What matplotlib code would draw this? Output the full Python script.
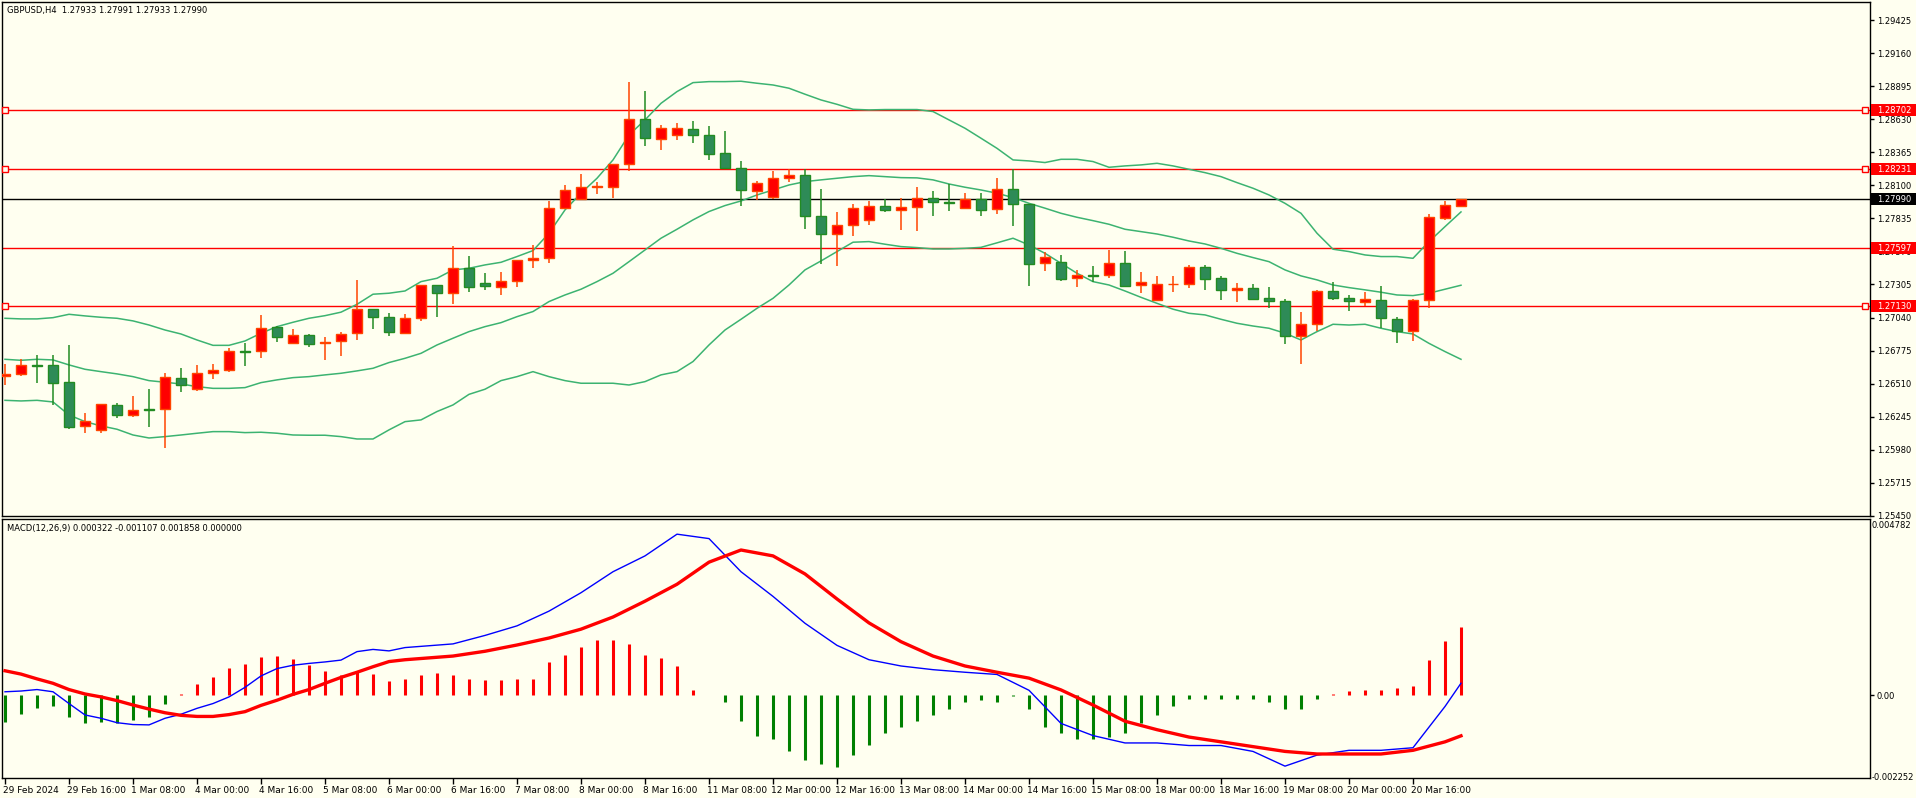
import matplotlib
matplotlib.use('Agg')
import matplotlib.pyplot as plt
from matplotlib.patches import Rectangle
import matplotlib.transforms as mtransforms

# ---------------- data ----------------
title_text = "GBPUSD,H4  1.27933 1.27991 1.27933 1.27990"
macd_text = "MACD(12,26,9) 0.000322 -0.001107 0.001858 0.000000"

opens = [1.26572, 1.26585, 1.26660, 1.26657, 1.26521, 1.26168, 1.26136, 1.26337, 1.26257, 1.26308,
         1.26305, 1.26553, 1.26465, 1.26593, 1.26617, 1.26771, 1.26769, 1.26962, 1.26834, 1.26898,
         1.26834, 1.26850, 1.26914, 1.27107, 1.27042, 1.26919, 1.27034, 1.27299, 1.27235, 1.27435,
         1.27315, 1.27288, 1.27331, 1.27499, 1.27515, 1.27917, 1.27994, 1.28088, 1.28090, 1.28269,
         1.28630, 1.28475, 1.28507, 1.28550, 1.28502, 1.28358, 1.28237, 1.28058, 1.28005, 1.28157,
         1.28181, 1.27853, 1.27708, 1.27780, 1.27826, 1.27932, 1.27900, 1.27925, 1.27997, 1.27965,
         1.27917, 1.27989, 1.27909, 1.28069, 1.27949, 1.27475, 1.27483, 1.27355, 1.27381, 1.27379,
         1.27478, 1.27299, 1.27179, 1.27305, 1.27307, 1.27443, 1.27355, 1.27259, 1.27275, 1.27198,
         1.27171, 1.26890, 1.26986, 1.27251, 1.27198, 1.27163, 1.27179, 1.27026, 1.26930, 1.27179,
         1.27837, 1.27933]
highs = [1.26668, 1.26705, 1.26740, 1.26740, 1.26820, 1.26275, 1.26350, 1.26356, 1.26412, 1.26465,
         1.26593, 1.26636, 1.26660, 1.26668, 1.26793, 1.26836, 1.27060, 1.26972, 1.26946, 1.26908,
         1.26882, 1.26924, 1.27342, 1.27112, 1.27074, 1.27069, 1.27304, 1.27304, 1.27614, 1.27534,
         1.27395, 1.27406, 1.27504, 1.27622, 1.27973, 1.28104, 1.28192, 1.28123, 1.28274, 1.28930,
         1.28857, 1.28585, 1.28601, 1.28617, 1.28577, 1.28537, 1.28296, 1.28136, 1.28216, 1.28229,
         1.28229, 1.28072, 1.27888, 1.27951, 1.27976, 1.27989, 1.28000, 1.28088, 1.28056, 1.28109,
         1.28040, 1.28040, 1.28160, 1.28229, 1.27954, 1.27569, 1.27542, 1.27422, 1.27454, 1.27582,
         1.27574, 1.27406, 1.27374, 1.27374, 1.27462, 1.27462, 1.27374, 1.27318, 1.27310, 1.27286,
         1.27190, 1.27085, 1.27262, 1.27326, 1.27222, 1.27246, 1.27294, 1.27045, 1.27192, 1.27871,
         1.27976, 1.27991]
lows = [1.26500, 1.26572, 1.26518, 1.26339, 1.26144, 1.26117, 1.26117, 1.26238, 1.26246, 1.26165,
        1.25991, 1.26446, 1.26454, 1.26550, 1.26607, 1.26655, 1.26719, 1.26847, 1.26830, 1.26807,
        1.26703, 1.26735, 1.26860, 1.26951, 1.26895, 1.26911, 1.27015, 1.27048, 1.27152, 1.27248,
        1.27262, 1.27224, 1.27288, 1.27441, 1.27481, 1.27912, 1.27989, 1.28032, 1.28002, 1.28219,
        1.28419, 1.28384, 1.28464, 1.28443, 1.28307, 1.28233, 1.27938, 1.27983, 1.27991, 1.28130,
        1.27754, 1.27473, 1.27457, 1.27697, 1.27786, 1.27890, 1.27745, 1.27737, 1.27858, 1.27898,
        1.27912, 1.27858, 1.27874, 1.27778, 1.27296, 1.27417, 1.27329, 1.27288, 1.27326, 1.27360,
        1.27288, 1.27240, 1.27174, 1.27248, 1.27280, 1.27264, 1.27184, 1.27168, 1.27184, 1.27120,
        1.26831, 1.26671, 1.26935, 1.27184, 1.27096, 1.27133, 1.26959, 1.26839, 1.26855, 1.27120,
        1.27823, 1.27933]
closes = [1.26588, 1.26657, 1.26655, 1.26518, 1.26165, 1.26208, 1.26345, 1.26257, 1.26297, 1.26302,
          1.26561, 1.26500, 1.26593, 1.26617, 1.26769, 1.26767, 1.26954, 1.26882, 1.26898, 1.26826,
          1.26847, 1.26906, 1.27107, 1.27042, 1.26922, 1.27034, 1.27299, 1.27235, 1.27435, 1.27288,
          1.27296, 1.27331, 1.27499, 1.27515, 1.27917, 1.28061, 1.28085, 1.28093, 1.28269, 1.28630,
          1.28483, 1.28558, 1.28558, 1.28502, 1.28355, 1.28238, 1.28061, 1.28117, 1.28157, 1.28181,
          1.27853, 1.27708, 1.27780, 1.27917, 1.27935, 1.27900, 1.27925, 1.27997, 1.27965, 1.27960,
          1.27989, 1.27906, 1.28069, 1.27949, 1.27473, 1.27523, 1.27353, 1.27379, 1.27377, 1.27478,
          1.27296, 1.27323, 1.27307, 1.27309, 1.27443, 1.27347, 1.27259, 1.27275, 1.27192, 1.27171,
          1.26890, 1.26986, 1.27251, 1.27200, 1.27171, 1.27187, 1.27034, 1.26930, 1.27179, 1.27845,
          1.27941, 1.27990]

bb_upper = [1.27034, 1.27029, 1.27029, 1.27039, 1.27066, 1.27053, 1.27042, 1.27034, 1.27013, 1.26980,
            1.26940, 1.26908, 1.26860, 1.26817, 1.26817, 1.26852, 1.26914, 1.26967, 1.27002, 1.27034,
            1.27055, 1.27083, 1.27146, 1.27227, 1.27235, 1.27253, 1.27328, 1.27355, 1.27422, 1.27435,
            1.27462, 1.27483, 1.27529, 1.27577, 1.27716, 1.27903, 1.28037, 1.28157, 1.28304, 1.28504,
            1.28625, 1.28758, 1.28852, 1.28924, 1.28932, 1.28932, 1.28935, 1.28919, 1.28905, 1.28879,
            1.28831, 1.28785, 1.28750, 1.28710, 1.28705, 1.28708, 1.28708, 1.28708, 1.28692, 1.28625,
            1.28558, 1.28478, 1.28397, 1.28304, 1.28296, 1.28283, 1.28309, 1.28309, 1.28291, 1.28245,
            1.28256, 1.28264, 1.28277, 1.28256, 1.28229, 1.28202, 1.28170, 1.28122, 1.28077, 1.28023,
            1.27956, 1.27876, 1.27716, 1.27588, 1.27569, 1.27542, 1.27529, 1.27529, 1.27515, 1.27649,
            1.27769, 1.27887]
bb_middle = [1.26705, 1.26697, 1.26705, 1.26700, 1.26660, 1.26625, 1.26606, 1.26588, 1.26566, 1.26534,
             1.26521, 1.26507, 1.26486, 1.26472, 1.26472, 1.26478, 1.26518, 1.26540, 1.26558, 1.26566,
             1.26580, 1.26593, 1.26612, 1.26633, 1.26679, 1.26713, 1.26753, 1.26820, 1.26874, 1.26927,
             1.26967, 1.26999, 1.27047, 1.27088, 1.27168, 1.27221, 1.27267, 1.27328, 1.27395, 1.27488,
             1.27582, 1.27676, 1.27748, 1.27823, 1.27890, 1.27938, 1.27975, 1.28023, 1.28063, 1.28103,
             1.28130, 1.28144, 1.28157, 1.28170, 1.28178, 1.28170, 1.28162, 1.28160, 1.28144, 1.28111,
             1.28085, 1.28063, 1.28037, 1.28002, 1.27956, 1.27917, 1.27876, 1.27844, 1.27817, 1.27788,
             1.27748, 1.27729, 1.27710, 1.27684, 1.27654, 1.27630, 1.27595, 1.27555, 1.27521, 1.27488,
             1.27422, 1.27374, 1.27342, 1.27301, 1.27280, 1.27262, 1.27243, 1.27221, 1.27216, 1.27235,
             1.27267, 1.27299]
bb_lower = [1.26376, 1.26371, 1.26376, 1.26363, 1.26259, 1.26205, 1.26171, 1.26144, 1.26098, 1.26074,
            1.26085, 1.26098, 1.26112, 1.26125, 1.26125, 1.26117, 1.26120, 1.26112, 1.26098, 1.26096,
            1.26096, 1.26085, 1.26066, 1.26066, 1.26139, 1.26205, 1.26219, 1.26286, 1.26339, 1.26424,
            1.26465, 1.26534, 1.26566, 1.26606, 1.26566, 1.26534, 1.26513, 1.26513, 1.26513, 1.26499,
            1.26526, 1.26580, 1.26606, 1.26687, 1.26820, 1.26940, 1.27026, 1.27114, 1.27194, 1.27301,
            1.27422, 1.27494, 1.27569, 1.27644, 1.27649, 1.27628, 1.27609, 1.27601, 1.27590, 1.27590,
            1.27595, 1.27603, 1.27639, 1.27676, 1.27622, 1.27555, 1.27475, 1.27395, 1.27328, 1.27301,
            1.27253, 1.27202, 1.27154, 1.27107, 1.27074, 1.27061, 1.27026, 1.26994, 1.26972, 1.26954,
            1.26914, 1.26860, 1.26927, 1.26986, 1.26980, 1.26986, 1.26954, 1.26927, 1.26908, 1.26833,
            1.26767, 1.26705]

macd_bars = [0, 1, 2, 3, 4, 5, 6, 7, 8, 9, 10, 11, 12, 13, 14, 15, 16, 17, 18, 19, 20, 21, 22, 23, 24,
             25, 28, 30, 32, 34, 36, 38, 40, 42, 44, 46, 48, 50, 52, 54, 56, 58, 60, 62, 64, 66, 68,
             70, 72, 74, 76, 78, 80, 82, 84, 86, 88, 90, 91]
macd_main = [0.00009, 0.00011, 0.00015, 0.00009, -0.00023, -0.00054, -0.00063, -0.00075, -0.00080, -0.00081,
             -0.00063, -0.00052, -0.00036, -0.00023, -0.00005, 0.00021, 0.00052, 0.00072, 0.00081, 0.00086,
             0.00090, 0.00095, 0.00118, 0.00124, 0.00120,
             0.00129, 0.00139, 0.00162, 0.00188, 0.00228, 0.00278, 0.00335, 0.00378, 0.00437, 0.00425,
             0.00335, 0.00268, 0.00195, 0.00135, 0.00096, 0.00079, 0.00069, 0.00062, 0.00056, 0.00013,
             -0.00077, -0.00110, -0.00130, -0.00130, -0.00137, -0.00137, -0.00153, -0.00193, -0.00163,
             -0.00150, -0.00150, -0.00143, -0.00031, 0.000322]
macd_signal = [0.00066, 0.00057, 0.00044, 0.00032, 0.00015, 0.00003, -0.00005, -0.00015, -0.00027, -0.00038,
               -0.00048, -0.00055, -0.00058, -0.00058, -0.00053, -0.00045, -0.00028, -0.00014, 0.00002, 0.00015,
               0.00032, 0.00048, 0.00062, 0.00077, 0.00091,
               0.00096, 0.00106, 0.00119, 0.00136, 0.00155, 0.00179, 0.00212, 0.00255, 0.00301, 0.00361,
               0.00394, 0.00378, 0.00329, 0.00261, 0.00196, 0.00145, 0.00106, 0.00079, 0.00062, 0.00046,
               0.00014, -0.00027, -0.00071, -0.00094, -0.00114, -0.00127, -0.00140, -0.00153, -0.00160,
               -0.00160, -0.00160, -0.00150, -0.00127, -0.001107]
macd_hist = [-0.00073, -0.00052, -0.00035, -0.00030, -0.00060, -0.00076, -0.00073, -0.00076, -0.00068, -0.00060,
             -0.00024, 0.00003, 0.00030, 0.00049, 0.00073, 0.00084, 0.00103, 0.00106, 0.00098, 0.00081,
             0.00065, 0.00054, 0.00065, 0.00057, 0.00038, 0.00045, 0.00055, 0.00060, 0.00055, 0.00045,
             0.00040, 0.00040, 0.00045, 0.00045, 0.00090, 0.00110, 0.00130, 0.00150, 0.00150, 0.00140,
             0.00110, 0.00100, 0.00080, 0.00015, 0.00000, -0.00020, -0.00070, -0.00110, -0.00119, -0.00153,
             -0.00176, -0.00186, -0.00196, -0.00163, -0.00136, -0.00103, -0.00086, -0.00070, -0.00053, -0.00037,
             -0.00020, -0.00013, -0.00020, -0.00003, -0.00037, -0.00086, -0.00103, -0.00119, -0.00119, -0.00113,
             -0.00103, -0.00076, -0.00053, -0.00030, -0.00010, -0.00010, -0.00010, -0.00010, -0.00010, -0.00020,
             -0.00037, -0.00037, -0.00010, 0.00003, 0.00010, 0.00013, 0.00013, 0.00020, 0.00025, 0.00096,
             0.00146, 0.001858]

price_ticks = [1.29425, 1.29160, 1.28895, 1.28630, 1.28365, 1.28100, 1.27835, 1.27570,
               1.27305, 1.27040, 1.26775, 1.26510, 1.26245, 1.25980, 1.25715, 1.25450]
red_levels = [1.28702, 1.28231, 1.27597, 1.27130]
red_level_marked = [True, True, False, True]
bid_level = 1.27990

time_labels = ["29 Feb 2024", "29 Feb 16:00", "1 Mar 08:00", "4 Mar 00:00", "4 Mar 16:00",
               "5 Mar 08:00", "6 Mar 00:00", "6 Mar 16:00", "7 Mar 08:00", "8 Mar 00:00",
               "8 Mar 16:00", "11 Mar 08:00", "12 Mar 00:00", "12 Mar 16:00", "13 Mar 08:00",
               "14 Mar 00:00", "14 Mar 16:00", "15 Mar 08:00", "18 Mar 00:00", "18 Mar 16:00",
               "19 Mar 08:00", "20 Mar 00:00", "20 Mar 16:00"]
label_step = 4

# ---------------- style ----------------
BG = '#FFFFF0'
UP_FILL, UP_EDGE = '#FF0000', '#FF4500'
DN_FILL, DN_EDGE = '#2E8B57', '#228B22'
BB_COL = '#3CB371'
FS_Y = 6.0
FS_X = 6.5
FS_T = 6.0
plt.rcParams['font.family'] = ['DejaVu Sans']

W, H = 1916, 798
fig = plt.figure(figsize=(W / 100, H / 100), dpi=100)
fig.patch.set_facecolor(BG)

def box(x0, y0, x1, y1):
    return [x0 / W, 1 - y1 / H, (x1 - x0) / W, (y1 - y0) / H]

ax = fig.add_axes(box(2, 2, 1870, 516))
mx = fig.add_axes(box(2, 519, 1870, 778))

n = len(opens)
idx = list(range(n))
px_per_bar = 16.0
xmin = -3.0 / px_per_bar
xmax = xmin + 1868 / px_per_bar

for a in (ax, mx):
    a.set_facecolor(BG)
    a.set_xlim(xmin, xmax)
    for s in a.spines.values():
        s.set_color('black')
        s.set_linewidth(1.0)

# price scale: 8.02e-5 per pixel
ppp = 8.02e-5
ytop = 1.28702 + (110.3 - 2) * ppp
ybot = 1.28702 - (516 - 110.3) * ppp
ax.set_ylim(ybot, ytop)

# levels
for lvl, mk in zip(red_levels, red_level_marked):
    ax.axhline(lvl, color='#FF0000', lw=1.0, zorder=1)
    if mk:
        ax.plot([0, xmax - 0.3], [lvl, lvl], ls='none', marker='s', ms=4.2, mfc=BG,
                mec='#FF0000', mew=1.0, zorder=6, clip_on=False)
ax.axhline(bid_level, color='black', lw=1.0, zorder=1)

# bollinger bands
for band in (bb_upper, bb_middle, bb_lower):
    ax.plot(idx, band, color=BB_COL, lw=1.1, zorder=2)

# candles
up = [c >= o for o, c in zip(opens, closes)]
wick_cols = [UP_EDGE if u else DN_EDGE for u in up]
ax.vlines(idx, lows, highs, colors=wick_cols, lw=1.1, zorder=3)
bottoms = [min(o, c) for o, c in zip(opens, closes)]
heights = [max(abs(c - o), 1e-6) for o, c in zip(opens, closes)]
ax.bar(idx, heights, bottom=bottoms, width=0.62,
       color=[UP_FILL if u else DN_FILL for u in up],
       edgecolor=[UP_EDGE if u else DN_EDGE for u in up], linewidth=1.0, zorder=4)

ax.set_xticks([])
ax.yaxis.tick_right()
ax.set_yticks(price_ticks)
ax.set_yticklabels([f"{t:.5f}" for t in price_ticks])
ax.tick_params(axis='y', length=3, width=1, pad=2, labelsize=FS_Y, colors='black')

# right side boxes
trans = mtransforms.blended_transform_factory(ax.transAxes, ax.transData)
bw = 46 / 1868
bh = 12 * ppp
for lvl, col in [(l, '#FF0000') for l in red_levels] + [(bid_level, 'black')]:
    ax.add_patch(Rectangle((1.0 + 1 / 1868, lvl - bh / 2), bw, bh, transform=trans,
                           facecolor=col, edgecolor='none', clip_on=False, zorder=10))
    ax.text(1.0 + 7 / 1868, lvl, f"{lvl:.5f}", transform=trans, color='white',
            fontsize=FS_Y, va='center', ha='left', clip_on=False, zorder=11)

fig.text(7 / W, 1 - 10 / H, title_text, fontsize=FS_T, va='center', ha='left')

# ---------------- MACD ----------------
mtop, mbot = 0.004782, -0.002252
mx.set_ylim(mbot, mtop)
hist_cols = ['#FF0000' if v > 0 else '#008000' for v in macd_hist]
mx.vlines(idx, 0, macd_hist, colors=hist_cols, lw=2.2, zorder=2)
mx.plot(macd_bars, macd_main, color='#0000FF', lw=1.0, zorder=3)
mx.plot(macd_bars, macd_signal, color='#FF0000', lw=2.4, zorder=4)

mx.yaxis.tick_right()
mx.set_yticks([0.0])
mx.set_yticklabels(["0.00"])
mx.tick_params(axis='y', length=3, width=1, pad=2, labelsize=FS_Y)
mtrans = mtransforms.blended_transform_factory(mx.transAxes, mx.transAxes)
mx.text(1.0 + 2 / 1868, 1.0 - 2 / 259, "0.004782", transform=mtrans, fontsize=FS_Y,
        va='top', ha='left', clip_on=False)
mx.text(1.0 + 2 / 1868, 0.0, "-0.002252", transform=mtrans, fontsize=FS_Y,
        va='center', ha='left', clip_on=False)

tick_pos = [i * label_step for i in range(len(time_labels))]
mx.set_xticks(tick_pos)
mx.set_xticklabels(time_labels, ha='left')
mx.tick_params(axis='x', length=4, width=1, pad=1.5, labelsize=FS_X)
for lab in mx.get_xticklabels():
    lab.set_transform(lab.get_transform() + mtransforms.ScaledTranslation(-2 / 100, 0, fig.dpi_scale_trans))

fig.text(7 / W, 1 - 529 / H, macd_text, fontsize=FS_T, va='center', ha='left')

fig.savefig('out.png', dpi=100, facecolor=BG)
